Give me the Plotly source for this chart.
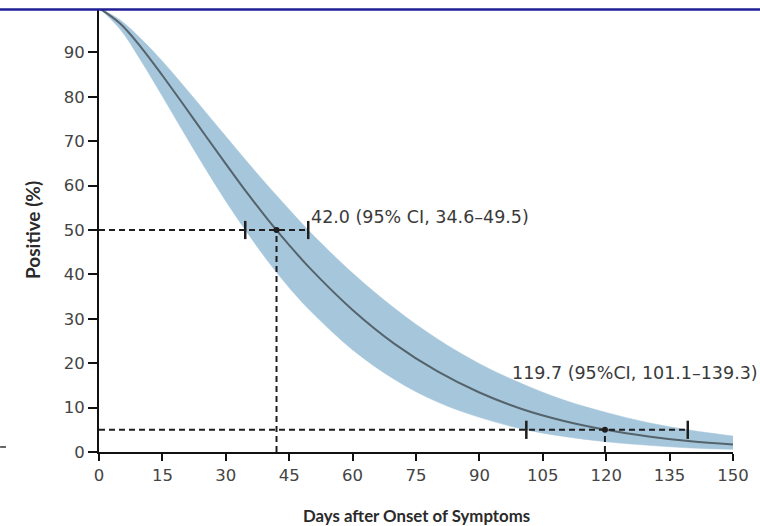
import plotly.graph_objects as go

# ---- data ----
days = [0, 5, 10, 15, 20, 25, 30, 35, 40, 45, 50, 60, 70, 80, 90, 100, 110, 120, 130, 140, 150]
center = [100, 96.5, 91.1, 84.8, 78.2, 71.5, 64.9, 58.4, 52.3, 46.6, 41.3, 32.0, 24.3, 18.2, 13.4, 9.7, 7.0, 5.0, 3.5, 2.4, 1.7]
lower = [100, 95.2, 88.0, 80.1, 72.0, 64.1, 56.5, 49.5, 42.9, 37.0, 31.8, 23.0, 16.3, 11.3, 7.8, 5.2, 3.5, 2.3, 1.5, 0.9, 0.6]
upper = [100, 97.3, 93.0, 88.0, 82.5, 76.8, 71.1, 65.4, 59.9, 54.6, 49.5, 40.3, 32.3, 25.5, 19.9, 15.4, 11.7, 8.9, 6.6, 4.9, 3.6]

levels = [50, 5]                  # percent positive
est_days = [42.0, 119.7]          # estimated day
ci_low = [34.6, 101.1]
ci_high = [49.5, 139.3]
labels = ["42.0 (95% CI, 34.6–49.5)", "119.7 (95%CI, 101.1–139.3)"]
label_pos = [(49.8, 53.0), (97.3, 17.8)]

x_ticks = list(range(0, 151, 15))
y_ticks = list(range(0, 101, 10))

BAND = "#a6c7db"
LINE = "#55636d"
DARK = "#1e1e1e"
SANS = "DejaVu Sans"
BOLD = "Lato"

fig = go.Figure()

# confidence band
fig.add_trace(go.Scatter(x=days, y=upper, mode="lines", line=dict(color=BAND, width=0.5, shape="spline"),
                         hoverinfo="skip", showlegend=False))
fig.add_trace(go.Scatter(x=days, y=lower, mode="lines", line=dict(color=BAND, width=0.5, shape="spline"),
                         fill="tonexty", fillcolor=BAND, hoverinfo="skip", showlegend=False))
# central curve
fig.add_trace(go.Scatter(x=days, y=center, mode="lines", line=dict(color=LINE, width=2, shape="spline"),
                         showlegend=False))

for lev, d, lo, hi in zip(levels, est_days, ci_low, ci_high):
    fig.add_trace(go.Scatter(x=[0, hi], y=[lev, lev], mode="lines",
                             line=dict(color=DARK, width=2, dash="6px,4px"), showlegend=False))
    fig.add_trace(go.Scatter(x=[d, d], y=[0, lev], mode="lines",
                             line=dict(color=DARK, width=2, dash="6px,4px"), showlegend=False))
    fig.add_trace(go.Scatter(x=[lo, hi], y=[lev, lev], mode="markers",
                             marker=dict(symbol="line-ns", size=13, line=dict(color=DARK, width=2.5)),
                             showlegend=False))
    fig.add_trace(go.Scatter(x=[d], y=[lev], mode="markers",
                             marker=dict(symbol="circle", size=6, color=DARK), showlegend=False))

for txt, (lx, ly) in zip(labels, label_pos):
    fig.add_annotation(x=lx, y=ly, text=txt, showarrow=False, xanchor="left", yanchor="middle",
                       font=dict(family=SANS, size=17.5, color="#3a3a3a"))

# axis titles
fig.add_annotation(xref="paper", yref="paper", x=0.5, y=-0.142, text="<b>Days after Onset of Symptoms</b>",
                   showarrow=False, xanchor="center", yanchor="middle",
                   font=dict(family=BOLD, size=16.8, color="#2a2a2a"))
fig.add_annotation(xref="paper", yref="paper", x=-0.1057, y=0.5, text="<b>Positive (%)</b>", textangle=-90,
                   showarrow=False, xanchor="center", yanchor="middle",
                   font=dict(family=BOLD, size=19, color="#2a2a2a"))

# white cover above the top rule + top blue rule + stray dash at left
fig.add_shape(type="rect", xref="paper", yref="paper", x0=-0.2, x1=1.1, y0=0.9966, y1=1.03,
              fillcolor="white", line=dict(width=0), layer="above")
fig.add_shape(type="line", xref="paper", yref="paper", x0=-0.2, x1=1.1, y0=0.9966, y1=0.9966,
              line=dict(color="#1f1f95", width=2.5), layer="above")
fig.add_shape(type="line", xref="paper", yref="paper", x0=-0.156, x1=-0.1467, y0=0.0113, y1=0.0113,
              line=dict(color="#333333", width=1.5), layer="above")

fig.update_xaxes(range=[0, 150], tickvals=x_ticks, showgrid=False, zeroline=False,
                 showline=True, linecolor="#111111", linewidth=2,
                 ticks="outside", ticklen=7, tickwidth=2, tickcolor="#111111",
                 tickfont=dict(family=SANS, size=16.5, color="#444444"))
fig.update_yaxes(range=[0, 100], tickvals=y_ticks, showgrid=False, zeroline=False,
                 showline=True, linecolor="#111111", linewidth=2,
                 ticks="outside", ticklen=9, tickwidth=2, tickcolor="#111111",
                 tickfont=dict(family=SANS, size=16.5, color="#444444"))

fig.update_layout(width=760, height=526, margin=dict(l=99, r=27, t=8, b=74),
                  plot_bgcolor="white", paper_bgcolor="white", showlegend=False)

fig.write_html("out.html")
